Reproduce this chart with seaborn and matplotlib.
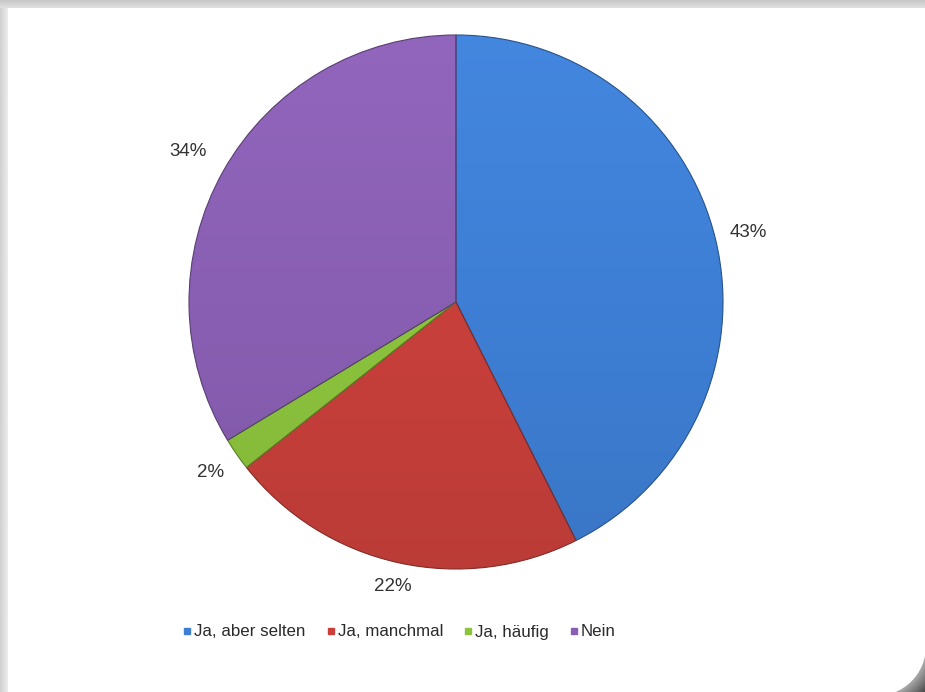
import numpy as np
import matplotlib
matplotlib.use("Agg")
import matplotlib.pyplot as plt
import matplotlib.colors as mcolors
from matplotlib.lines import Line2D
from matplotlib.patches import Circle, Rectangle
import seaborn as sns

# Survey answers and their shares (percent)
categories = ["Ja, aber selten", "Ja, manchmal", "Ja, häufig", "Nein"]
shares = [43, 22, 2, 34]
colors = ["#3e7fd5", "#c9403b", "#8cc43d", "#895fb3"]

sns.set_theme(style="white")
plt.rcParams["font.family"] = ["Liberation Sans", "DejaVu Sans"]
palette = sns.color_palette(colors)

W, H = 925, 692
fig = plt.figure(figsize=(W / 100, H / 100), dpi=100)
fig.patch.set_facecolor("white")

# ---- card frame in pixel coordinates ----
bg = fig.add_axes([0, 0, 1, 1])
bg.set_xlim(0, W)
bg.set_ylim(H, 0)
bg.axis("off")

# top shadow band
top = np.linspace(0.78, 0.87, 8)[:, None] * np.ones((1, 2))
bg.imshow(top, extent=(0, W, 8, 0), cmap="gray", vmin=0, vmax=1,
          aspect="auto", interpolation="bilinear", zorder=1)
# left shadow band
left = np.ones((2, 1)) * np.linspace(0.82, 0.92, 8)[None, :]
bg.imshow(left, extent=(0, 8, H, 8), cmap="gray", vmin=0, vmax=1,
          aspect="auto", interpolation="bilinear", zorder=1)

# bottom-right page curl
cx, cy, R = 876, 646, 50
xs = np.linspace(840, W, 90)
ys = np.linspace(610, H, 90)
X, Y = np.meshgrid(xs, ys)
d = np.hypot(X - cx, Y - cy)
shade = np.clip(0.68 - (d - R) / 45.0, 0.3, 0.72)
bg.imshow(shade, extent=(840, W, H, 610), cmap="gray", vmin=0, vmax=1,
          aspect="auto", interpolation="bilinear", zorder=1)
bg.add_patch(Rectangle((840, 610), cx - 840, H - 610, color="white", zorder=2, lw=0))
bg.add_patch(Rectangle((840, 610), W - 840, cy - 610, color="white", zorder=2, lw=0))
bg.add_patch(Circle((cx, cy), R, color="white", zorder=2, lw=0))

# ---- pie ----
pcx, pcy, pr = 456, 302, 267
ax = fig.add_axes([(pcx - pr) / W, (H - pcy - pr) / H, 2 * pr / W, 2 * pr / H])
wedges, _ = ax.pie(shares, colors=palette, startangle=90, counterclock=False,
                   radius=1.0, wedgeprops=dict(linewidth=0.8))
ax.set_xlim(-1, 1)
ax.set_ylim(-1, 1)
ax.set_aspect("equal")
ax.axis("off")

# gentle top-to-bottom shading inside each slice
grad = np.linspace(1.0, 0.0, 200)[:, None] * np.ones((1, 2))
for w, c in zip(wedges, colors):
    base = np.array(mcolors.to_rgb(c))
    light = np.clip(base * 1.03 + 0.015, 0, 1)
    dark = base * 0.93
    cmap = mcolors.LinearSegmentedColormap.from_list("shade", [dark, base, light])
    im = ax.imshow(grad, extent=(-1, 1, -1, 1), cmap=cmap, vmin=0, vmax=1,
                   aspect="auto", interpolation="bilinear", zorder=1.5)
    im.set_clip_path(w)
    w.set_zorder(2)
    w.set_facecolor("none")
    w.set_edgecolor(mcolors.to_hex(base * 0.65))

label_dist = [1.125, 1.09, 1.12, 1.15]
for w, v, dist in zip(wedges, shares, label_dist):
    ang = np.deg2rad((w.theta1 + w.theta2) / 2)
    ax.text(dist * np.cos(ang), dist * np.sin(ang), f"{v}%",
            ha="center", va="center", fontsize=13.5, color="#333333")

# ---- legend ----
handles = [Line2D([], [], marker="s", linestyle="none", markersize=5,
                  markerfacecolor=c, markeredgecolor=c) for c in colors]
fig.legend(handles, categories, loc="center", ncol=4,
           bbox_to_anchor=(399 / W, 1 - 632 / H), frameon=False,
           fontsize=12.2, handlelength=0.6, handletextpad=0.1,
           columnspacing=1.2, labelcolor="#2a2a2a")

fig.savefig("out.png", dpi=100)
